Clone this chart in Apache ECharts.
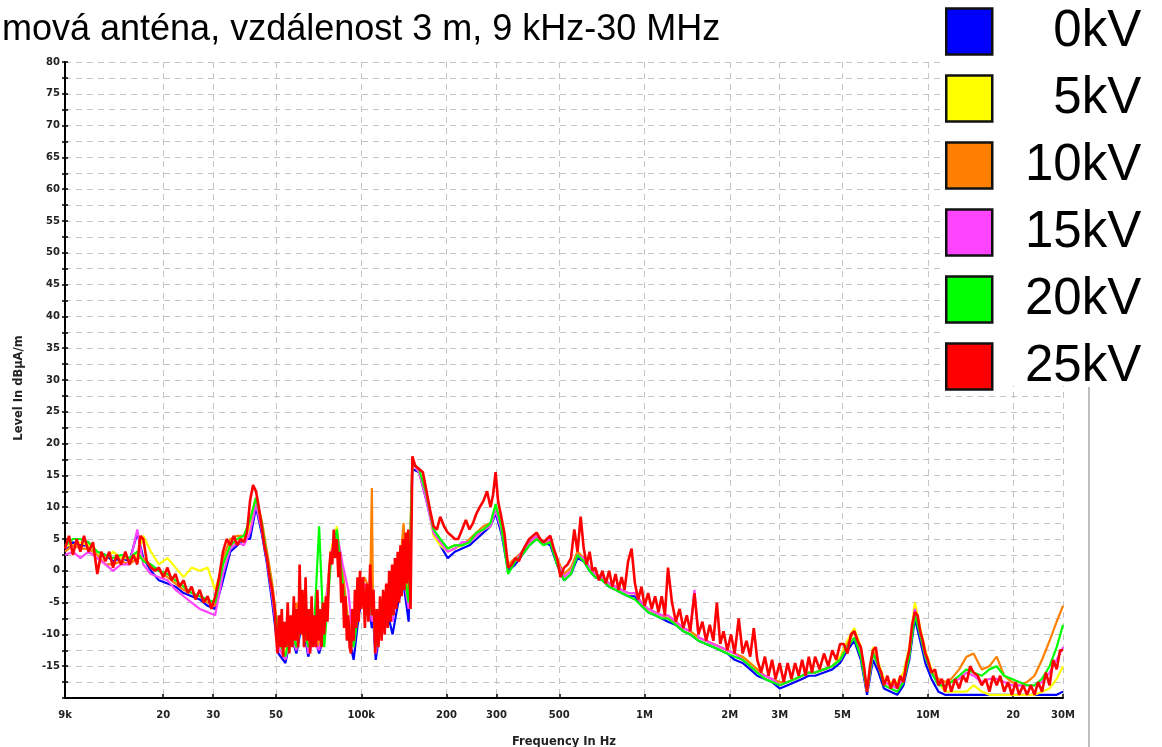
<!DOCTYPE html>
<html><head><meta charset="utf-8">
<script src="https://cdn.jsdelivr.net/npm/echarts@6/dist/echarts.min.js"></script>
<style>html,body{margin:0;padding:0;background:#fff}#c{width:1162px;height:747px}</style>
</head><body><div id="c"></div>
<script>
// ---- data (frequencies in kHz, levels in dB) ----
const titleText = 'mová anténa, vzdálenost 3 m, 9 kHz-30 MHz';
const seriesNames = ['0kV', '5kV', '10kV', '15kV', '20kV', '25kV'];
const tickFreqsHz = [9e3, 2e4, 3e4, 5e4, 1e5, 2e5, 3e5, 5e5, 1e6, 2e6, 3e6, 5e6, 1e7, 2e7, 3e7];
const tickLabels = ['9k', '20', '30', '50', '100k', '200', '300', '500', '1M', '2M', '3M', '5M', '10M', '20', '30M'];

// fine grid for the top (25kV) trace
const freqFine = [
  9, 9.3, 9.6, 9.9, 10.2, 10.5, 10.9, 11.3, 11.7, 12.1, 12.5, 12.9, 13.3, 13.7, 14.2, 14.7, 15.2, 15.7, 16.2, 16.6,
  17.0, 17.5, 18.1, 18.7, 19.3, 20, 20.7, 21.4, 22.1, 22.8, 23.6, 24.4, 25.2, 26.0, 26.9, 27.8, 28.7, 29.6, 30.5,
  31.5, 32.5, 33.5, 34.5, 35.5, 36.5, 37.5, 38.5, 39.5, 40.5, 41.5, 42.5, 43.5, 44.5, 45.5, 46.5, 47.5, 48.5, 49.5,
  50, 50.6, 51.2, 51.8, 52.4, 53, 53.6, 54.3, 55, 55.7, 56.4, 57.1, 57.8, 58.5, 59.2, 59.9, 60.6, 61.3, 62, 62.8,
  63.6, 64.4, 65.2, 66, 66.8, 67.6, 68.4, 69.2, 70, 70.8, 71.6, 72.4, 73.2, 74, 75, 76, 77, 78, 79, 80,
  81, 82, 83, 84, 85, 86, 87, 88, 89, 90, 91, 92, 93, 94, 95, 96, 97, 98, 99, 100,
  101.5, 103, 104.5, 106, 107.5, 109, 110.5, 112, 113.5, 115, 116.5, 118, 119.5, 121, 122.5, 124, 125.5, 127, 128.5, 130,
  131.5, 133, 134.5, 136, 137.5, 139, 140.5, 142, 143.5, 145, 146.5, 148, 149.3,
  151.5, 155, 160, 165, 170, 175, 180, 185, 190, 196, 202, 208, 214, 220, 227, 234, 241, 248, 255, 262, 270, 278, 286,
  292, 298, 304, 312, 320, 330, 340, 350, 360, 370, 380, 392, 404, 416, 428, 440, 452, 465, 478, 491, 505, 520, 535,
  550, 565, 580, 595,
  610, 625, 640, 655, 670, 690, 710, 730, 750, 770, 790, 810, 830, 850, 875, 900, 925, 950, 975, 1000, 1030, 1060,
  1090, 1120, 1150, 1180, 1210, 1250, 1290, 1330, 1370, 1410, 1450, 1500, 1550, 1600, 1650, 1700, 1750, 1800, 1850,
  1900, 1960, 2020, 2080, 2150, 2220, 2290, 2360, 2430, 2500, 2580, 2660, 2740, 2820, 2900, 3000, 3100, 3200, 3300,
  3400, 3500, 3600, 3700, 3800, 3900, 4000, 4150, 4300, 4450, 4600, 4750, 4900,
  5050, 5200, 5350, 5500, 5650, 5800, 5950, 6100, 6250, 6400, 6550, 6700, 6850, 7000, 7200, 7400, 7600, 7800, 8000,
  8200, 8400, 8600, 8800, 9000, 9200, 9400, 9600, 9800, 10000, 10300, 10600, 10900, 11200, 11500, 11800, 12100, 12500,
  12900, 13300, 13700, 14100, 14500, 15000, 15500, 16000, 16500, 17000, 17500, 18000, 18600, 19200, 19800, 20400,
  21000, 21700, 22400, 23100, 23800, 24500, 25300, 26100, 26900, 27700, 28500, 29300, 30000
];
const kv25 = [
  3.5, 5.5, 2.5, 5, 3, 5.5, 3, 4.5, -0.5, 3, 1.5, 3, 0.5, 2.5, 1, 3, 1, 2.5, 1, 5.5,
  5, 1.5, 0.5, 0, 0.5, -1, 0.5, -1.5, -0.5, -2.5, -1.5, -3.5, -2.5, -4.5, -3, -5, -4, -6, -4,
  -1, 3, 5, 4, 5.5, 4, 5, 4.5, 6, 11, 13.5, 12.5, 10, 7, 4, 2, -1, -3, -6,
  -10, -13, -7, -12, -6, -13.5, -8, -12, -5, -13, -7, -12, -4, -11, -6, -12, 1, -10, -3, -12,
  -1, -11, -6, -13, -4, -12, -7, -12, -3, -11, -6, -12, -5, -10, -4, -8, 0, 3, 1, 6.5,
  2, 5, -1, 3, -5, -2, -9, -4, -11, -7, -12, -13, -6, -11, -3, -9, -1, -8, 0, -6,
  -1, -9, -2, -8, 1, -7, -3, -13, -6, -12, -4, -11, -3, -10, -2, -9, 0, -8, 1, -7,
  2, -6, 3, -5, 4, -4, 5, -3, 6, -2, 6.5, 0, -6,
  18, 16.5, 16, 15.5, 12.5, 9.5, 7, 6.5, 8.5, 7, 6, 5.5, 5, 5, 6.5, 8, 6.5, 7.5, 9, 10, 11, 12.5, 10,
  12, 15.5, 11, 8.5, 6, 0.5, 1, 2, 1.5, 3, 4, 5, 5.5, 6, 5, 4.5, 5, 5.5, 3.5, 2, -1, 0.5, 1,
  2, 6.5, 3, 8.5,
  3.5, 1, 3, 0, 0.5, -1.5, 0, -2, 0, -2.5, -0.5, -3, -1, -3, 1.5, 3.5, -2, -4.5, -2.5, -5.5, -3.5, -6,
  -4, -6.5, -4, -7, 0.5, -5, -8, -6, -9, -7, -9.5, -3.5, -10, -8, -11, -8.5, -11, -5, -11.5,
  -9.5, -12.5, -10, -13, -7.5, -13, -11, -13.5, -9, -14, -16, -13.5, -16.5, -14, -17, -14.5, -17.5, -14.5, -17,
  -14.5, -16.5, -14, -16.5, -13.5, -16, -13.5, -15.5, -13, -15, -12.5, -14, -11.5,
  -11.5, -13, -10, -9.5, -11, -12, -15, -19, -15, -12.5, -12, -15, -16, -18, -16.5, -18.5, -17, -18.5, -16.5,
  -17.5, -14.5, -12.5, -8.5, -6.5, -7, -9.5, -11, -13, -14, -16, -15.5, -18, -17, -19, -17, -19, -17,
  -18.5, -16.5, -17.5, -15, -16, -16.5, -18, -17, -19, -16.5, -18, -16.5, -19, -17.5, -19.5, -17.5,
  -19.5, -18, -19.5, -18, -19.5, -17.5, -19, -16, -18, -14, -15.5, -12.5, -12.5
];

// coarser grid for the traces lying underneath
const freqCoarse = [
  9, 9.6, 10.2, 10.9, 11.7, 12.5, 13.3, 14.2, 15.2, 16.2,
  17.0, 18.1, 19.3, 20.7, 22.1, 23.6, 25.2, 26.9, 28.7, 30.5,
  32.5, 34.5, 36.5, 38.5, 40.5, 42.5, 44.5, 46.5, 48.5, 51,
  54, 56.5, 59, 62, 65, 68, 71, 74, 78, 82,
  86, 90, 94, 98, 102.5, 107.5, 109, 110, 111, 112.5,
  117.5, 123, 129, 135, 141, 147, 151.5, 160, 170, 180,
  190, 202, 214, 227, 241, 255, 270, 286, 298, 312,
  330, 350, 370, 392, 416, 440, 465, 491, 520, 550,
  580, 610, 640, 670, 710, 750, 790, 830, 875, 925,
  975, 1030, 1090, 1150, 1210, 1290, 1370, 1450, 1500, 1550,
  1650, 1750, 1850, 1960, 2080, 2220, 2360, 2500, 2660, 2820,
  3000, 3200, 3400, 3600, 3800, 4000, 4300, 4600, 4900, 5200,
  5500, 5800, 6100, 6400, 6700, 7000, 7400, 7800, 8200, 8600,
  9000, 9400, 9800, 10300, 10900, 11500, 12100, 12900, 13700, 14500,
  15500, 16500, 17500, 18600, 19800, 21000, 22400, 23800, 25300, 26900,
  28500, 30000
];
const kv0 = [
  3, 4.5, 4, 4, 3, 2.5, 1.5, 2, 1.5, 6,
  2, 0, -1.5, -2, -2.5, -3.5, -4, -4.5, -5.5, -6,
  -1.5, 3, 4, 5, 5, 10, 6, 1, -5, -13,
  -14.5, -10, -13, -8, -13.5, -10, -13, -10, 2, 5,
  -2, -10, -14, -7, -3, -7, -9, -6, -10, -14,
  -8, -6, -10, -5, -2, -8, 16, 15.5, 11, 6,
  4, 2, 3, 3.5, 4, 5, 6, 7, 9, 6,
  0, 1, 2.5, 4, 5, 4.5, 4, 1, -1.5, -0.5,
  2, 1.5, 0, -1, -1.5, -2.5, -3, -3.5, -4, -4,
  -5.5, -6.5, -7, -7.5, -8, -8.5, -9.5, -10, -10.5, -11,
  -11.5, -12, -12.5, -13, -14, -14.5, -15.5, -16.5, -17, -17.5,
  -18.5, -18, -17.5, -17, -16.5, -16.5, -16, -15.5, -14.5, -12.5,
  -11, -14, -19.5, -14, -16, -18.5, -19, -19.5, -18, -14,
  -7.5, -11, -14.5, -17, -19, -19.5, -19.5, -19.5, -19.5, -19.5,
  -19.5, -19.5, -19.5, -19.5, -19.5, -19.5, -19.5, -19.5, -19.5, -19.5,
  -19.5, -19
];
const kv5 = [
  4, 4, 4.5, 4, 3, 2, 3, 2, 2, 2.5,
  5.5, 3, 1, 2, 0.5, -1, 0.5, 0, 0.5, -3,
  1, 4, 4.5, 5, 7, 11, 7, 2, -3, -11,
  -13, -9, -10, -9, -12, -8, -11, -9, 3, 7,
  -1, -9, -11, -6, -2, -5, -7, -4, -8, -12,
  -6, -4, -6, -3, 0, -5, 17, 15.5, 11.5, 5.5,
  4, 3, 3.5, 4, 4.5, 5.5, 6.5, 7, 10, 7,
  1, 1.5, 3, 4.5, 5.5, 4.5, 4.5, 1.5, -0.5, 0.5,
  3, 2, 0.5, -0.5, -1, -2, -2.5, -3, -3.5, -3.5,
  -5, -6, -6.5, -7, -7, -8, -9, -9.5, -10, -10.5,
  -11, -11.5, -12, -12.5, -13, -13.5, -14.5, -15.5, -16.5, -17,
  -17.5, -17.5, -17, -16.5, -16, -16, -15.5, -15, -13.5, -11,
  -9, -12, -19, -12, -14.5, -17, -17.5, -17.5, -16, -12,
  -5, -9, -12.5, -15.5, -17.5, -19, -19, -19, -19, -18,
  -19, -19.5, -19.5, -19.5, -19.5, -19.5, -19.5, -19.5, -19, -18.5,
  -17, -15
];
const kv10 = [
  3, 4, 3.5, 3.5, 2.5, 1, 1, 1.5, 1, 2,
  2, 0.5, 0, -1, -2, -3, -3.5, -4, -5, -5.5,
  2, 5, 5.5, 5.5, 8, 11.5, 8, 3, -2, -10,
  -12, -8, -5, -10, -11, -9, -12, -7, 2, 4,
  0, -8, -10, -4, -1, -3, 13, -5, -8, -11,
  -5, -3, -5, -3, 7.5, -4, 17.5, 15.5, 12, 6,
  4.5, 3.5, 4, 4, 5, 6, 7, 7.5, 10, 7,
  1, 2, 3, 4.5, 5, 4.5, 4.5, 2, -0.5, 0.5,
  3, 2, 0.5, -0.5, -1, -2, -2.5, -3, -3.5, -3.5,
  -5, -6, -6.5, -7, -7.5, -8, -9, -9.5, -10, -10.5,
  -11, -11.5, -12, -12.5, -13, -13.5, -14.5, -15.5, -16.5, -17,
  -17.5, -17.5, -17, -16.5, -16, -16, -15.5, -15, -14, -11.5,
  -9.5, -12.5, -19, -12.5, -15, -17.5, -18, -18, -17, -13,
  -6, -9.5, -13, -16, -17, -17.5, -17, -15.5, -13.5, -13,
  -15.5, -15, -13.5, -16.5, -17.5, -18, -17.5, -16.5, -14, -11,
  -8, -5.5
];
const kv15 = [
  2.5, 3, 2, 3, 2, 1, 0, 1, 1, 6.5,
  1, -0.5, -1, -1.5, -3, -4, -5, -6, -6.5, -7,
  -0.5, 3.5, 4.5, 4, 6, 10.5, 6.5, 1.5, -4, -12,
  -14, -10, -12.5, -6, -13, -11, -12.5, -9, 2.5, 6,
  1, -3, -12, -5, -2, -6, -8, -5, -9, -13,
  -7, -5, -8, -2, -1, -6, 17, 15.5, 11, 6,
  4.5, 3, 3.5, 4.5, 4.5, 5.5, 6.5, 7, 9.5, 6.5,
  0.5, 1.5, 3, 4.5, 5.5, 4.5, 5, 1.5, -1, 0,
  2.5, 2, 0.5, -0.5, -1, -2, -2.5, -3, -3.5, -3.5,
  -5, -6, -6.5, -7, -7, -8, -9, -9.5, -3, -10.5,
  -11, -11.5, -12, -12.5, -13, -14, -15, -16, -16.5, -17,
  -18, -17.5, -17, -16.5, -16, -16, -15.5, -15, -14, -12,
  -10.5, -13, -19, -13, -15, -17.5, -18, -18.5, -17, -13,
  -6, -10, -13.5, -16, -17.5, -18, -17.5, -17, -16, -16.5,
  -17.5, -17, -17, -17.5, -18, -18, -18, -18, -17.5, -16,
  -14, -12
];
const kv20 = [
  4, 5, 5, 4.5, 3, 2.5, 2, 2.5, 2, 3,
  1.5, 1, 0, -0.5, -1.5, -2.5, -3.5, -4, -4.5, -5,
  1, 4, 5, 5.5, 8, 11.5, 7.5, 2, -3, -11,
  -13.5, -9, -12, -8, -12, -10, 7, -12, 1, 6.5,
  -2, -9, -12, -6, -3, -5, -7, -4, -8, -12,
  -6, -4, -7, -3, 0, -5, 17, 16, 12, 6.5,
  5, 3.5, 4, 4, 4.5, 6, 6.5, 7.5, 10.5, 7,
  -0.5, 1.5, 2.5, 4, 5, 4, 4.5, 1, -1.5, -0.5,
  2.5, 1.5, 0, -1, -1.5, -2.5, -3, -3.5, -4, -4.5,
  -5.5, -6.5, -7, -7.5, -7.5, -8.5, -9.5, -10, -10.5, -11,
  -11.5, -12, -12.5, -13, -13.5, -14, -15, -16, -17, -17.5,
  -18, -17.5, -17, -16.5, -16, -16, -15.5, -15, -14, -12,
  -10.5, -13.5, -19, -13, -15, -18, -18.5, -19, -17.5, -13.5,
  -7, -10, -13.5, -16, -18, -18, -17.5, -16.5, -15.5, -16,
  -16.5, -15.5, -15, -16.5, -17, -17.5, -18, -18, -17, -15,
  -12, -8.5
];
const seriesColors = ['#0000ff', '#ffff00', '#ff8000', '#ff44ff', '#00ff00', '#ff0000'];

// ---- build ----
const lg = v => Math.log10(v);
const toPairs = (freqs, vals) => freqs.map((f, i) => [lg(f * 1000), vals[i]]);
const seriesData = [
  toPairs(freqCoarse, kv0), toPairs(freqCoarse, kv5), toPairs(freqCoarse, kv10),
  toPairs(freqCoarse, kv15), toPairs(freqCoarse, kv20), toPairs(freqFine, kv25)
];
const lineWidths = [2.2, 2.2, 2.2, 2.2, 2.2, 2.6];
const tickPos = tickFreqsHz.map(lg);
const xMin = lg(9e3), xMax = lg(3e7);
const tickFont = {fontFamily: 'DejaVu Sans', fontWeight: 'bold', fontSize: 10, color: '#222'};
const gridLine = {show: true, lineStyle: {color: '#c4c4c4', type: [6, 5], width: 1}};

const chart = echarts.init(document.getElementById('c'), null, {renderer: 'canvas'});
chart.setOption({
  animation: false,
  backgroundColor: '#fff',
  grid: {left: 65, right: 99, top: 62, bottom: 49, containLabel: false, outerBoundsMode: 'none'},
  xAxis: {
    type: 'value', min: xMin, max: xMax,
    name: 'Frequency In Hz', nameLocation: 'middle', nameGap: 38,
    nameTextStyle: {fontFamily: 'DejaVu Sans', fontWeight: 'bold', fontSize: 11.5, color: '#222'},
    axisLine: {onZero: false, lineStyle: {color: '#000', width: 2}},
    axisTick: {inside: true, length: 4, customValues: tickPos, lineStyle: {color: '#000', width: 1.5}},
    axisLabel: Object.assign({margin: 12, customValues: tickPos,
      formatter: v => { const i = tickPos.findIndex(p => Math.abs(p - v) < 1e-6); return i >= 0 ? tickLabels[i] : ''; }}, tickFont),
    splitLine: gridLine
  },
  yAxis: [{
    type: 'value', min: -20, max: 80, interval: 2.5, position: 'left',
    name: 'Level In dBµA/m', nameLocation: 'middle', nameGap: 40,
    nameTextStyle: {fontFamily: 'DejaVu Sans', fontWeight: 'bold', fontSize: 11.5, color: '#222', padding: [0, 16, 0, 0]},
    axisLine: {show: true, onZero: false, lineStyle: {color: '#000', width: 2}},
    axisTick: {show: true, inside: false, length: 3, lineStyle: {color: '#000', width: 1.5}},
    axisLabel: Object.assign({margin: 5,
      formatter: v => (Math.abs(v % 5) < 1e-9 && v > -20) ? String(v) : ''}, tickFont),
    splitLine: gridLine
  }, {
    type: 'value', min: -20, max: 80, interval: 2.5, position: 'left',
    axisLine: {show: false, onZero: false},
    axisTick: {show: true, inside: true, length: 3, lineStyle: {color: '#000', width: 1.5}},
    axisLabel: {show: false}, splitLine: {show: false}
  }],
  legend: {
    left: 945, top: 6, orient: 'vertical', padding: 0, z: 6,
    itemWidth: 46, itemHeight: 46, itemGap: 16, icon: 'rect', selectedMode: false,
    itemStyle: {borderColor: '#111', borderWidth: 2.5},
    data: seriesNames,
    formatter: n => '{r|' + n + '}',
    textStyle: {fontFamily: 'Liberation Sans', fontSize: 51, color: '#000', lineHeight: 46,
      rich: {r: {width: 144, align: 'right', fontFamily: 'Liberation Sans', fontSize: 51, lineHeight: 46, color: '#000'}}}
  },
  graphic: {elements: [
    {type: 'rect', left: 940, top: 0, z: 3, shape: {width: 222, height: 386}, style: {fill: '#fff'}},
    {type: 'line', z: 3, shape: {x1: 1089, y1: 387, x2: 1089, y2: 747}, style: {stroke: '#a8a8a8', lineWidth: 1.5}},
    {type: 'text', left: 2, top: 12, z: 5,
      style: {text: titleText, fontFamily: 'Liberation Sans', fontSize: 36, fill: '#000'}}
  ]},
  series: seriesNames.map((n, k) => ({
    name: n, type: 'line', data: seriesData[k], showSymbol: false, symbol: 'none',
    color: seriesColors[k], z: 2 + k * 0.01,
    lineStyle: {color: seriesColors[k], width: lineWidths[k]}, emphasis: {disabled: true}
  }))
});
</script></body></html>
